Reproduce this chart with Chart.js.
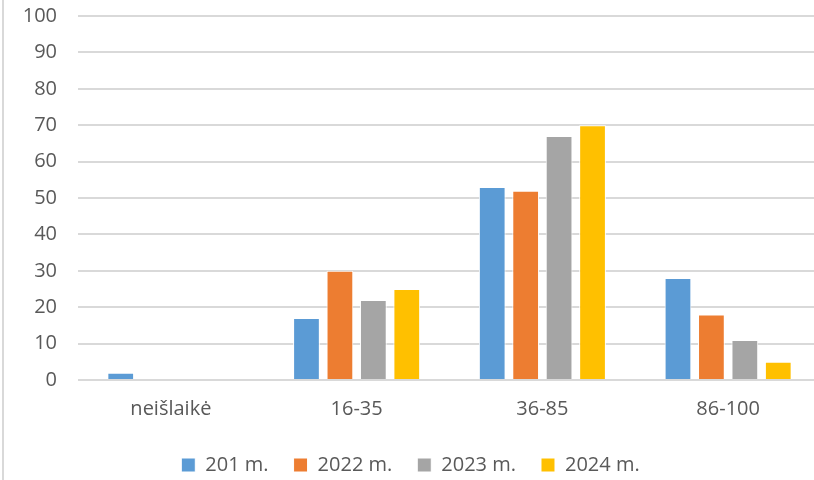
<!DOCTYPE html>
<html>
<head>
<meta charset="utf-8">
<script src="https://cdn.jsdelivr.net/npm/chart.js@4"></script>
<style>
  html, body { margin: 0; padding: 0; background: #ffffff; overflow: hidden; }
  #wrap { position: relative; width: 814px; height: 480px; overflow: hidden; }
  #edge { position: absolute; left: 2px; top: 0; width: 2px; height: 480px; background: #d9d9d9; }
</style>
</head>
<body>
<div id="wrap">
  <!-- the canvas is a little larger than the frame, like the cropped original -->
  <canvas id="resultChart" width="822" height="485"></canvas>
  <div id="edge"></div>
</div>
<script>
/*
----------------------
Data for the chart
----------------------
*/
var categories = ["neišlaikė", "16-35", "36-85", "86-100"];
var series_labels = ["201 m.", "2022 m.", "2023 m.", "2024 m."];
var series_colors = ["#5b9bd5", "#ed7d31", "#a5a5a5", "#ffc000"];

var values_201 = [2, 17, 53, 28];
var values_2022 = [0, 30, 52, 18];
var values_2023 = [0, 22, 67, 11];
var values_2024 = [0, 25, 70, 5];

var y_min = 0;
var y_max = 100;
var y_step = 10;

var text_color = "#595959";
var grid_color = "#d9d9d9";
var font_family = "'Open Sans', 'Noto Sans', sans-serif";

var all_values = [values_201, values_2022, values_2023, values_2024];

var datasets = [];
for (var i = 0; i < series_labels.length; i++) {
  datasets.push({
    label: series_labels[i],
    data: all_values[i],
    backgroundColor: series_colors[i],
    borderColor: "#ffffff",
    borderWidth: 1,
    barPercentage: 0.8,
    categoryPercentage: 0.72
  });
}

var context = document.getElementById("resultChart").getContext("2d");

new Chart(context, {
  type: "bar",
  data: {
    labels: categories,
    datasets: datasets
  },
  options: {
    responsive: false,
    animation: false,
    layout: {
      padding: { top: 16, left: 0, right: 1, bottom: 0 }
    },
    scales: {
      x: {
        grid: { display: false, drawTicks: false },
        border: { display: false },
        ticks: {
          color: text_color,
          padding: 17,
          font: { family: font_family, size: 20 }
        },
        afterFit: function (scale) {
          scale.height = 50;
        }
      },
      y: {
        min: y_min,
        max: y_max,
        grid: { color: grid_color, lineWidth: 2, drawTicks: false },
        border: { display: false },
        ticks: {
          stepSize: y_step,
          color: text_color,
          padding: 21,
          font: { family: font_family, size: 20 }
        },
        afterFit: function (scale) {
          // fixed axis width, and no extra room above the top tick
          scale.width = 78;
          scale.paddingTop = 0;
          scale.paddingBottom = 0;
        }
      }
    },
    plugins: {
      legend: {
        position: "bottom",
        labels: {
          color: text_color,
          boxWidth: 14,
          boxHeight: 14,
          padding: 25,
          font: { family: font_family, size: 20 }
        }
      },
      tooltip: { enabled: false }
    }
  }
});
</script>
</body>
</html>
